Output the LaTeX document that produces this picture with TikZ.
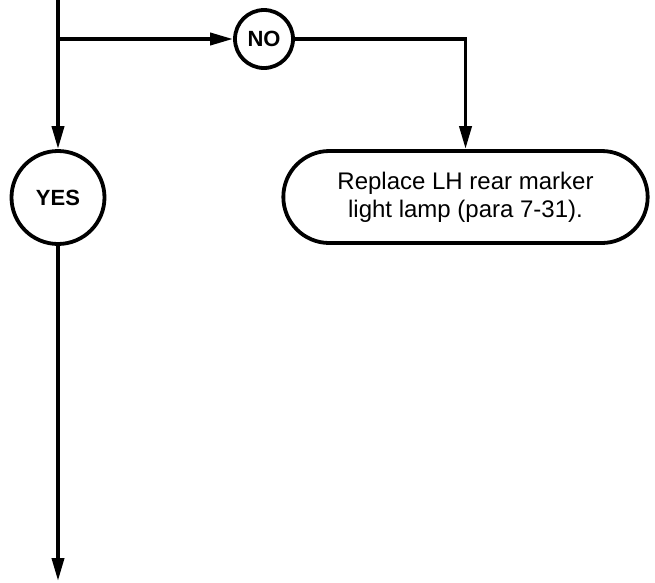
\documentclass[tikz,border=0pt]{standalone}
\usepackage{fontspec}
\setmainfont{Liberation Sans}
\usetikzlibrary{arrows.meta,shapes.misc}
\begin{document}
\begin{tikzpicture}[x=1pt,y=-1pt,
  line width=3.8pt,
  flow/.style={-{Triangle[length=23pt,width=12pt]}},
  decision/.style={circle,draw,inner sep=0pt,font=\fontsize{22}{24}\selectfont\bfseries},
  action/.style={rounded rectangle,draw,minimum width=371pt,minimum height=92pt,align=center,font=\fontsize{24}{28}\selectfont}]
\useasboundingbox (0,0) rectangle (655,582);
\coordinate (start) at (58,-2);
\coordinate (branch) at (58,39);
\coordinate (end) at (58,581);
\node[decision,minimum size=58pt] (no) at (264,39) {NO};
\node[decision,minimum size=93pt] (yes) at (58,197.5) {YES};
\node[action] (box) at (465.5,197) {Replace LH rear marker\\light lamp (para 7-31).};
\draw[flow] (start) -- (yes);
\draw[flow] (branch) -- (no);
\draw[flow] (no) -| (box);
\draw[flow] (yes) -- (end);
\end{tikzpicture}
\end{document}
